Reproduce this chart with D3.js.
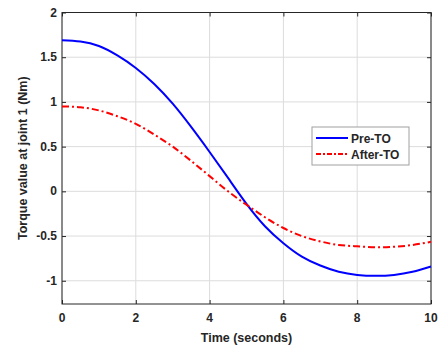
<html>
<head>
<script src="https://d3js.org/d3.v7.min.js"></script>
<style>
  body { margin: 0; background: white; }
  text { font-family: "Liberation Sans", Arial, sans-serif; font-weight: bold; fill: #262626; }
</style>
</head>
<body>
<svg id="chart" width="443" height="347"></svg>
<script>
// time samples (seconds)
var times = [0, 0.5, 1, 1.5, 2, 2.5, 3, 3.5, 4, 4.5, 5, 5.5, 6, 6.5, 7, 7.5, 8, 8.5, 9, 9.5, 10];
// torque, Pre-TO
var preTO = [1.69, 1.675, 1.625, 1.52, 1.38, 1.20, 0.98, 0.72, 0.44, 0.15, -0.14, -0.39, -0.58, -0.73, -0.83, -0.90, -0.935, -0.945, -0.935, -0.90, -0.84];
// torque, After-TO
var afterTO = [0.95, 0.94, 0.905, 0.84, 0.755, 0.635, 0.50, 0.34, 0.17, 0.0, -0.15, -0.29, -0.41, -0.50, -0.56, -0.60, -0.615, -0.625, -0.62, -0.60, -0.565];
var xTicks = [0, 2, 4, 6, 8, 10];
var yTicks = [-1, -0.5, 0, 0.5, 1, 1.5, 2];
var seriesNames = ["Pre-TO", "After-TO"];

var svg = d3.select("#chart");
var pLeft = 62, pRight = 431, pTop = 12.5, pBottom = 304;

var x = d3.scaleLinear().domain([0, 10]).range([pLeft, pRight]);
var y = d3.scaleLinear().domain([-1.26, 2]).range([pBottom, pTop]);

// grid
svg.append("g").selectAll("line").data(xTicks).enter().append("line")
  .attr("x1", function(d) { return x(d); }).attr("x2", function(d) { return x(d); })
  .attr("y1", pTop).attr("y2", pBottom)
  .attr("stroke", "#dcdcdc").attr("stroke-width", 1);
svg.append("g").selectAll("line").data(yTicks).enter().append("line")
  .attr("y1", function(d) { return y(d); }).attr("y2", function(d) { return y(d); })
  .attr("x1", pLeft).attr("x2", pRight)
  .attr("stroke", "#dcdcdc").attr("stroke-width", 1);

// axes (ticks inward)
function tidy(g) { g.select(".domain").remove(); g.selectAll("line").attr("stroke", "#262626"); }
svg.append("g").attr("transform", "translate(0," + pBottom + ")")
  .call(d3.axisTop(x).tickValues(xTicks).tickSize(4).tickFormat("")).call(tidy);
svg.append("g").attr("transform", "translate(0," + pTop + ")")
  .call(d3.axisBottom(x).tickValues(xTicks).tickSize(4).tickFormat("")).call(tidy);
svg.append("g").attr("transform", "translate(" + pLeft + ",0)")
  .call(d3.axisRight(y).tickValues(yTicks).tickSize(4).tickFormat("")).call(tidy);
svg.append("g").attr("transform", "translate(" + pRight + ",0)")
  .call(d3.axisLeft(y).tickValues(yTicks).tickSize(4).tickFormat("")).call(tidy);

// tick labels
svg.append("g").selectAll("text").data(xTicks).enter().append("text")
  .attr("x", function(d) { return x(d); }).attr("y", 322)
  .attr("text-anchor", "middle").attr("font-size", "12px")
  .text(function(d) { return d; });
svg.append("g").selectAll("text").data(yTicks).enter().append("text")
  .attr("x", 57).attr("y", function(d) { return y(d) + 4; })
  .attr("text-anchor", "end").attr("font-size", "12px")
  .text(function(d) { return d; });

// box
svg.append("rect").attr("x", pLeft).attr("y", pTop)
  .attr("width", pRight - pLeft).attr("height", pBottom - pTop)
  .attr("fill", "none").attr("stroke", "#262626").attr("stroke-width", 1);

// lines
var line = d3.line().x(function(d, i) { return x(times[i]); }).y(function(d) { return y(d); }).curve(d3.curveNatural);
svg.append("path").datum(preTO).attr("d", line)
  .attr("fill", "none").attr("stroke", "#0000ff").attr("stroke-width", 2);
svg.append("path").datum(afterTO).attr("d", line)
  .attr("fill", "none").attr("stroke", "#ff0000").attr("stroke-width", 2)
  .attr("stroke-dasharray", "7,3,2,3");

// axis titles
svg.append("text").attr("x", (pLeft + pRight) / 2).attr("y", 342)
  .attr("text-anchor", "middle").attr("font-size", "12.5px").text("Time (seconds)");
svg.append("text").attr("transform", "translate(27," + ((pTop + pBottom) / 2) + ") rotate(-90)")
  .attr("text-anchor", "middle").attr("font-size", "12.5px").text("Torque value at joint 1 (Nm)");

// legend
var lg = svg.append("g");
lg.append("rect").attr("x", 312).attr("y", 127).attr("width", 97).attr("height", 38)
  .attr("fill", "white").attr("stroke", "#a0a0a0").attr("stroke-width", 1);
var colors = ["#0000ff", "#ff0000"];
var dashes = [null, "5,2,2,2"];
seriesNames.forEach(function(name, i) {
  var ly = 138 + i * 16;
  lg.append("line").attr("x1", 316).attr("x2", 348).attr("y1", ly).attr("y2", ly)
    .attr("stroke", colors[i]).attr("stroke-width", 2).attr("stroke-dasharray", dashes[i]);
  lg.append("text").attr("x", 351).attr("y", ly + 4.5).attr("font-size", "12px").text(name);
});
</script>
</body>
</html>
